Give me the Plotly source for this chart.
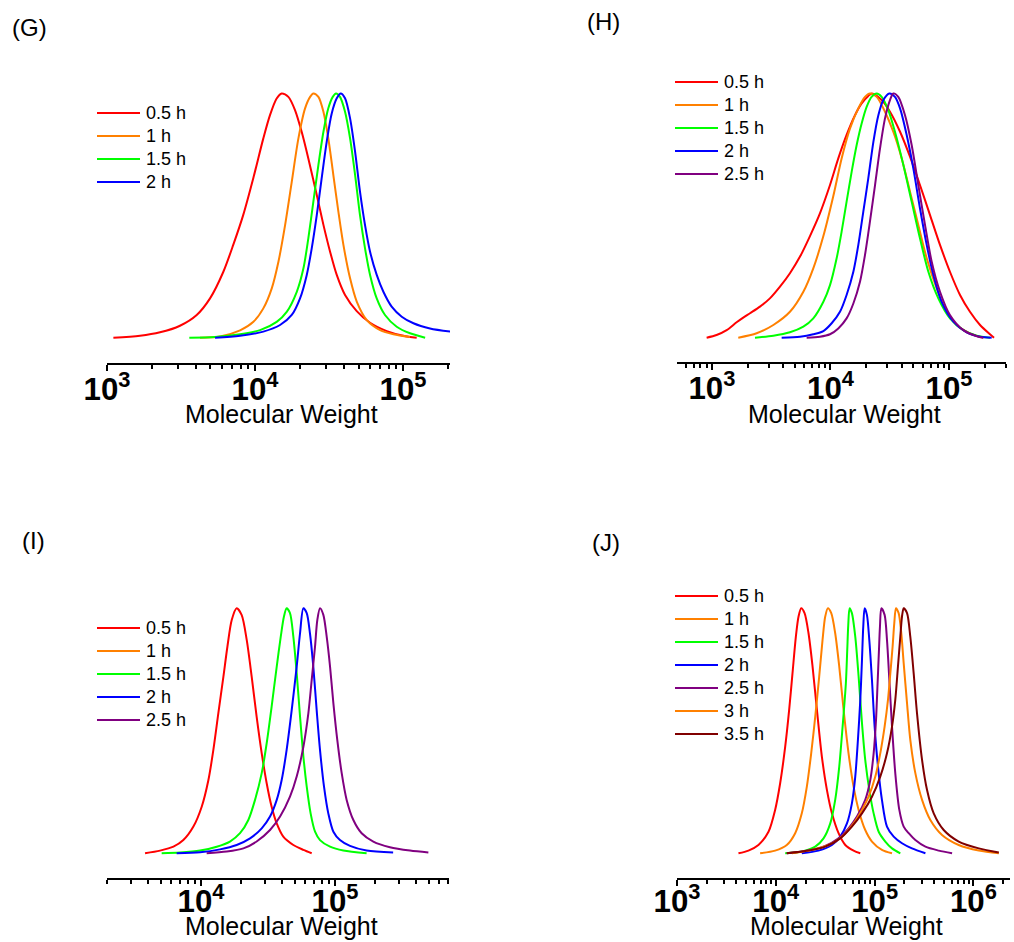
import plotly.graph_objects as go

# ---------------- data (log10 molecular weight, normalized intensity) ----------------
TIMES_G = ["0.5 h", "1 h", "1.5 h", "2 h"]
TIMES_H = ["0.5 h", "1 h", "1.5 h", "2 h", "2.5 h"]
TIMES_I = ["0.5 h", "1 h", "1.5 h", "2 h", "2.5 h"]
TIMES_J = ["0.5 h", "1 h", "1.5 h", "2 h", "2.5 h", "3 h", "3.5 h"]

G_05_logM = [3.043, 3.223, 3.358, 3.493, 3.606, 3.696, 3.786, 3.854, 3.921, 3.989, 4.056, 4.101, 4.146, 4.180,
             4.225, 4.270, 4.315, 4.360, 4.417, 4.462, 4.507, 4.552, 4.608, 4.687, 4.777, 4.890, 5.002, 5.092]
G_05_int = [0, 0.008, 0.022, 0.049, 0.093, 0.161, 0.270, 0.382, 0.504, 0.655, 0.816, 0.911, 0.979, 1.0,
            0.986, 0.932, 0.843, 0.734, 0.584, 0.462, 0.352, 0.257, 0.175, 0.109, 0.061, 0.027, 0.008, 0]
G_10_logM = [3.628, 3.764, 3.899, 3.989, 4.056, 4.113, 4.158, 4.203, 4.248, 4.293, 4.338, 4.372, 4.394, 4.428,
             4.462, 4.495, 4.529, 4.563, 4.597, 4.642, 4.687, 4.755, 4.845, 4.935, 5.047]
G_10_int = [0, 0.005, 0.03, 0.065, 0.12, 0.202, 0.311, 0.461, 0.638, 0.816, 0.939, 0.986, 1.0, 0.986,
            0.925, 0.816, 0.666, 0.516, 0.38, 0.243, 0.148, 0.072, 0.031, 0.014, 0.003]
G_15_logM = [3.556, 3.730, 3.899, 4.034, 4.146, 4.214, 4.282, 4.327, 4.360, 4.394, 4.428, 4.462, 4.495, 4.525,
             4.547, 4.574, 4.608, 4.642, 4.676, 4.709, 4.743, 4.777, 4.822, 4.878, 4.957, 5.047, 5.149]
G_15_int = [0, 0.003, 0.014, 0.031, 0.065, 0.106, 0.188, 0.284, 0.407, 0.557, 0.707, 0.843, 0.939, 0.986,
            1.0, 0.986, 0.925, 0.816, 0.666, 0.502, 0.366, 0.257, 0.161, 0.093, 0.045, 0.018, 0]
G_20_logM = [3.730, 3.899, 4.056, 4.169, 4.248, 4.304, 4.349, 4.383, 4.417, 4.450, 4.484, 4.518, 4.552, 4.579,
             4.608, 4.642, 4.676, 4.709, 4.743, 4.777, 4.822, 4.867, 4.923, 4.991, 5.070, 5.182, 5.318]
G_20_int = [0, 0.008, 0.025, 0.052, 0.093, 0.161, 0.256, 0.366, 0.502, 0.652, 0.802, 0.918, 0.980, 1.0,
            0.980, 0.898, 0.761, 0.598, 0.461, 0.352, 0.257, 0.188, 0.127, 0.086, 0.059, 0.038, 0.025]

H_05_logM = [2.955, 3.039, 3.124, 3.208, 3.264, 3.321, 3.405, 3.489, 3.574, 3.658, 3.743, 3.827, 3.911, 3.996,
             4.066, 4.136, 4.207, 4.263, 4.319, 4.350, 4.432, 4.502, 4.587, 4.671, 4.755, 4.840, 4.924, 5.008,
             5.093, 5.177, 5.262, 5.346, 5.380]
H_05_int = [0, 0.011, 0.031, 0.063, 0.082, 0.100, 0.127, 0.161, 0.209, 0.264, 0.332, 0.416, 0.509, 0.625,
            0.734, 0.830, 0.911, 0.959, 0.990, 1.0, 0.973, 0.925, 0.843, 0.741, 0.625, 0.502, 0.380, 0.270,
            0.175, 0.106, 0.052, 0.014, 0]
H_10_logM = [3.222, 3.377, 3.518, 3.658, 3.771, 3.855, 3.940, 4.024, 4.094, 4.165, 4.235, 4.291, 4.333, 4.390,
             4.460, 4.530, 4.601, 4.671, 4.741, 4.812, 4.896, 4.980, 5.065, 5.177, 5.290]
H_10_int = [0, 0.018, 0.052, 0.106, 0.188, 0.284, 0.416, 0.580, 0.734, 0.857, 0.939, 0.986, 1.0, 0.986,
            0.925, 0.843, 0.734, 0.598, 0.461, 0.325, 0.202, 0.106, 0.052, 0.018, 0]
H_15_logM = [3.363, 3.518, 3.658, 3.771, 3.855, 3.940, 3.996, 4.052, 4.094, 4.136, 4.179, 4.221, 4.263, 4.305,
             4.347, 4.390, 4.432, 4.488, 4.544, 4.615, 4.685, 4.755, 4.826, 4.910, 5.008, 5.121, 5.234, 5.346]
H_15_int = [0, 0.008, 0.022, 0.045, 0.079, 0.147, 0.215, 0.325, 0.434, 0.557, 0.680, 0.789, 0.877, 0.945,
            0.986, 1.0, 0.986, 0.932, 0.843, 0.707, 0.557, 0.407, 0.270, 0.161, 0.079, 0.031, 0.008, 0]
H_20_logM = [3.588, 3.743, 3.855, 3.940, 4.010, 4.080, 4.136, 4.193, 4.235, 4.277, 4.319, 4.362, 4.404, 4.446,
             4.497, 4.544, 4.587, 4.643, 4.699, 4.755, 4.812, 4.868, 4.938, 5.037, 5.149, 5.262, 5.360]
H_20_int = [0, 0.004, 0.014, 0.027, 0.059, 0.106, 0.175, 0.270, 0.380, 0.516, 0.652, 0.802, 0.911, 0.973,
            1.0, 0.986, 0.939, 0.830, 0.693, 0.530, 0.380, 0.257, 0.147, 0.066, 0.022, 0.004, 0]
H_25_logM = [3.799, 3.911, 3.996, 4.066, 4.136, 4.193, 4.249, 4.291, 4.333, 4.376, 4.418, 4.460, 4.502, 4.530,
             4.572, 4.629, 4.685, 4.741, 4.798, 4.854, 4.924, 5.008, 5.121, 5.248, 5.290]
H_25_int = [0, 0.004, 0.014, 0.038, 0.079, 0.140, 0.229, 0.338, 0.475, 0.625, 0.775, 0.898, 0.973, 1.0,
            0.986, 0.911, 0.789, 0.625, 0.461, 0.311, 0.188, 0.093, 0.031, 0.004, 0]

I_05_logM = [3.582, 3.694, 3.794, 3.868, 3.943, 4.005, 4.055, 4.092, 4.129, 4.167, 4.197, 4.229, 4.266, 4.303,
             4.341, 4.378, 4.415, 4.453, 4.490, 4.527, 4.565, 4.614, 4.689, 4.764, 4.826]
I_05_int = [0, 0.011, 0.027, 0.054, 0.109, 0.190, 0.299, 0.422, 0.571, 0.721, 0.844, 0.952, 1.0, 0.973,
            0.871, 0.721, 0.558, 0.408, 0.286, 0.190, 0.122, 0.068, 0.034, 0.014, 0]
I_10_logM = []
I_10_int = []
I_15_logM = [3.706, 3.843, 3.993, 4.117, 4.216, 4.291, 4.353, 4.403, 4.453, 4.490, 4.527, 4.565, 4.595, 4.619,
             4.639, 4.664, 4.689, 4.714, 4.739, 4.764, 4.789, 4.818, 4.851, 4.888, 4.963, 5.062, 5.236]
I_15_int = [0, 0.003, 0.011, 0.027, 0.048, 0.082, 0.136, 0.218, 0.327, 0.449, 0.599, 0.762, 0.884, 0.966,
            1.0, 0.980, 0.884, 0.735, 0.558, 0.395, 0.272, 0.163, 0.088, 0.054, 0.027, 0.011, 0]
I_20_logM = [3.818, 3.993, 4.142, 4.266, 4.366, 4.453, 4.515, 4.565, 4.602, 4.639, 4.677, 4.714, 4.739, 4.764,
             4.789, 4.813, 4.838, 4.863, 4.888, 4.918, 4.950, 4.988, 5.037, 5.112, 5.236, 5.434]
I_20_int = [0, 0.004, 0.016, 0.034, 0.061, 0.102, 0.150, 0.218, 0.299, 0.422, 0.585, 0.762, 0.898, 1.0,
            0.980, 0.898, 0.762, 0.585, 0.422, 0.272, 0.163, 0.088, 0.054, 0.030, 0.011, 0.003]
I_25_logM = [4.042, 4.192, 4.316, 4.415, 4.515, 4.590, 4.664, 4.714, 4.764, 4.801, 4.826, 4.851, 4.868, 4.888,
             4.913, 4.938, 4.963, 4.988, 5.017, 5.050, 5.087, 5.137, 5.199, 5.286, 5.410, 5.560, 5.697]
I_25_int = [0, 0.007, 0.020, 0.048, 0.095, 0.150, 0.231, 0.313, 0.435, 0.571, 0.707, 0.844, 0.952, 1.0,
            0.973, 0.884, 0.762, 0.612, 0.463, 0.327, 0.218, 0.136, 0.082, 0.048, 0.025, 0.011, 0.003]

J_05_logM = [3.622, 3.723, 3.824, 3.926, 3.993, 4.044, 4.095, 4.135, 4.169, 4.203, 4.230, 4.257, 4.291, 4.331,
             4.372, 4.416, 4.466, 4.517, 4.568, 4.635, 4.703, 4.787, 4.855]
J_05_int = [0, 0.011, 0.034, 0.088, 0.177, 0.286, 0.435, 0.585, 0.735, 0.884, 0.966, 1.0, 0.980, 0.898,
            0.762, 0.585, 0.395, 0.259, 0.163, 0.082, 0.034, 0.011, 0]
J_10_logM = [3.841, 3.993, 4.111, 4.196, 4.263, 4.314, 4.358, 4.399, 4.439, 4.473, 4.500, 4.527, 4.561, 4.601,
             4.642, 4.686, 4.736, 4.787, 4.838, 4.905, 4.973, 5.074, 5.176]
J_10_int = [0, 0.011, 0.034, 0.082, 0.163, 0.272, 0.408, 0.558, 0.721, 0.871, 0.966, 1.0, 0.980, 0.898,
            0.762, 0.585, 0.408, 0.272, 0.177, 0.095, 0.048, 0.014, 0]
J_15_logM = [4.095, 4.263, 4.399, 4.483, 4.551, 4.601, 4.642, 4.676, 4.709, 4.723, 4.733, 4.747, 4.770, 4.804,
             4.838, 4.872, 4.905, 4.946, 4.990, 5.041, 5.108, 5.176, 5.260]
J_15_int = [0, 0.007, 0.027, 0.061, 0.122, 0.218, 0.354, 0.517, 0.694, 0.830, 0.930, 1.0, 0.980, 0.884,
            0.721, 0.531, 0.381, 0.259, 0.163, 0.088, 0.048, 0.020, 0]
J_20_logM = [4.263, 4.432, 4.568, 4.652, 4.720, 4.770, 4.804, 4.831, 4.855, 4.872, 4.885, 4.899, 4.922, 4.946,
             4.973, 5.000, 5.034, 5.074, 5.125, 5.193, 5.277, 5.378, 5.514]
J_20_int = [0, 0.011, 0.034, 0.068, 0.122, 0.204, 0.313, 0.463, 0.626, 0.789, 0.925, 1.0, 0.973, 0.871,
            0.707, 0.517, 0.354, 0.218, 0.109, 0.068, 0.041, 0.020, 0]
J_25_logM = [4.111, 4.331, 4.500, 4.635, 4.736, 4.821, 4.905, 4.956, 4.990, 5.014, 5.030, 5.044, 5.054, 5.068,
             5.101, 5.125, 5.149, 5.176, 5.209, 5.250, 5.294, 5.345, 5.412, 5.514, 5.649, 5.784]
J_25_int = [0, 0.011, 0.030, 0.061, 0.102, 0.150, 0.218, 0.299, 0.408, 0.544, 0.694, 0.830, 0.925, 1.0,
            0.973, 0.871, 0.707, 0.517, 0.327, 0.177, 0.109, 0.082, 0.054, 0.027, 0.011, 0]
J_30_logM = [4.162, 4.365, 4.534, 4.669, 4.787, 4.872, 4.939, 5.007, 5.057, 5.101, 5.135, 5.159, 5.182, 5.199,
             5.216, 5.243, 5.270, 5.294, 5.328, 5.361, 5.412, 5.480, 5.564, 5.682, 5.851, 6.054, 6.257]
J_30_int = [0, 0.014, 0.034, 0.068, 0.122, 0.177, 0.231, 0.313, 0.408, 0.517, 0.626, 0.735, 0.844, 0.939,
            1.0, 0.980, 0.898, 0.776, 0.612, 0.463, 0.327, 0.218, 0.136, 0.075, 0.034, 0.011, 0]
J_35_logM = [4.111, 4.331, 4.500, 4.652, 4.770, 4.872, 4.973, 5.057, 5.125, 5.176, 5.209, 5.236, 5.260, 5.277,
             5.294, 5.328, 5.361, 5.395, 5.429, 5.480, 5.530, 5.598, 5.699, 5.851, 6.054, 6.257]
J_35_int = [0, 0.011, 0.027, 0.061, 0.109, 0.163, 0.231, 0.313, 0.408, 0.517, 0.626, 0.762, 0.884, 0.966,
            1.0, 0.980, 0.884, 0.735, 0.571, 0.381, 0.259, 0.163, 0.095, 0.048, 0.020, 0.003]

COLORS = ["#FF0000", "#FF8000", "#00FF00", "#0000FF", "#800080", "#FF8000", "#800000"]
X_TITLE = "Molecular Weight"

# ---------------- layout helpers ----------------
W, H = 1014, 942
FONT = "Liberation Sans, Arial, sans-serif"

def px_x(p):
    return p / W

def px_y(p):
    return 1 - p / H

panels = [
    dict(label="(G)", lab_xy=(29, 28), series=[(G_05_logM, G_05_int), (G_10_logM, G_10_int),
                                              (G_15_logM, G_15_int), (G_20_logM, G_20_int)],
         times=TIMES_G, xd=(107, 450), yd=(80, 363), xr=[3.0, 5.317], yr=[-0.1036, 1.055],
         leg=(97, 140, 113), title_y=414, tls=-7),
    dict(label="(H)", lab_xy=(603, 22), series=[(H_05_logM, H_05_int), (H_10_logM, H_10_int),
                                               (H_15_logM, H_15_int), (H_20_logM, H_20_int),
                                               (H_25_logM, H_25_int)],
         times=TIMES_H, xd=(677, 1006), yd=(80, 362), xr=[2.705, 5.481], yr=[-0.0995, 1.055],
         leg=(675, 718, 82), title_y=414, tls=-7),
    dict(label="(I)", lab_xy=(33, 540), series=[(I_05_logM, I_05_int), (I_10_logM, I_10_int),
                                               (I_15_logM, I_15_int), (I_20_logM, I_20_int),
                                               (I_25_logM, I_25_int)],
         times=TIMES_I, xd=(107, 449), yd=(596, 878), xr=[3.298, 5.851], yr=[-0.1008, 1.050],
         leg=(97, 140, 628), title_y=926, tls=-10),
    dict(label="(J)", lab_xy=(606, 542), series=[(J_05_logM, J_05_int), (J_10_logM, J_10_int),
                                                (J_15_logM, J_15_int), (J_20_logM, J_20_int),
                                                (J_25_logM, J_25_int), (J_30_logM, J_30_int),
                                                (J_35_logM, J_35_int)],
         times=TIMES_J, xd=(677, 1010), yd=(596, 878), xr=[3.0, 6.37], yr=[-0.1008, 1.050],
         leg=(675, 718, 596), title_y=926, tls=-10),
]

fig = go.Figure()
shapes = []
annotations = []
LEG_STEP = 23

for k, p in enumerate(panels, start=1):
    xa = "x" if k == 1 else f"x{k}"
    ya = "y" if k == 1 else f"y{k}"
    for i, ((lx, iy), t) in enumerate(zip(p["series"], p["times"])):
        fig.add_trace(go.Scatter(
            x=[10 ** v for v in lx], y=iy, mode="lines", name=t,
            line=dict(color=COLORS[i], width=2, shape="spline", smoothing=0.8),
            xaxis=xa, yaxis=ya, showlegend=False))
        x0, x1, ytop = p["leg"]
        yy = ytop + i * LEG_STEP
        shapes.append(dict(type="line", xref="paper", yref="paper",
                           x0=px_x(x0), x1=px_x(x1), y0=px_y(yy), y1=px_y(yy),
                           line=dict(color=COLORS[i], width=2)))
        annotations.append(dict(text=t, xref="paper", yref="paper", x=px_x(x1 + 4), y=px_y(yy),
                                xanchor="left", yanchor="middle", showarrow=False,
                                font=dict(family=FONT, size=18, color="black")))
    annotations.append(dict(text=p["label"], xref="paper", yref="paper",
                            x=px_x(p["lab_xy"][0]), y=px_y(p["lab_xy"][1]),
                            xanchor="center", yanchor="middle", showarrow=False,
                            font=dict(family=FONT, size=24, color="black")))
    annotations.append(dict(text=X_TITLE, xref="paper", yref="paper",
                            x=px_x((p["xd"][0] + p["xd"][1]) / 2 + 3), y=px_y(p["title_y"]),
                            xanchor="center", yanchor="middle", showarrow=False,
                            font=dict(family=FONT, size=25, color="black")))

    xkey = "xaxis" if k == 1 else f"xaxis{k}"
    ykey = "yaxis" if k == 1 else f"yaxis{k}"
    fig.layout[xkey] = dict(
        type="log", domain=[px_x(p["xd"][0]), px_x(p["xd"][1])], range=p["xr"],
        anchor=ya, showline=True, linecolor="black", linewidth=2,
        ticks="outside", ticklen=6, tickwidth=2, tickcolor="black",
        dtick=1, exponentformat="power", showgrid=False, zeroline=False,
        ticklabelstandoff=p["tls"],
        tickfont=dict(family=FONT, size=25, color="black", weight="bold"),
        minor=dict(dtick="D1", ticks="outside", ticklen=4, tickwidth=2, tickcolor="black", showgrid=False),
        fixedrange=True, automargin=False,
    )
    fig.layout[ykey] = dict(
        domain=[px_y(p["yd"][1]), px_y(p["yd"][0])], range=p["yr"], anchor=xa,
        visible=False, showgrid=False, zeroline=False, fixedrange=True,
    )

fig.update_layout(
    width=W, height=H, autosize=False,
    margin=dict(l=0, r=0, t=0, b=0),
    paper_bgcolor="white", plot_bgcolor="white",
    showlegend=False, shapes=shapes, annotations=annotations,
    font=dict(family=FONT, color="black"),
)

fig.write_html("out.html", config={"displayModeBar": False},
               post_script="document.body.style.margin='0';document.body.style.overflow='hidden';")
